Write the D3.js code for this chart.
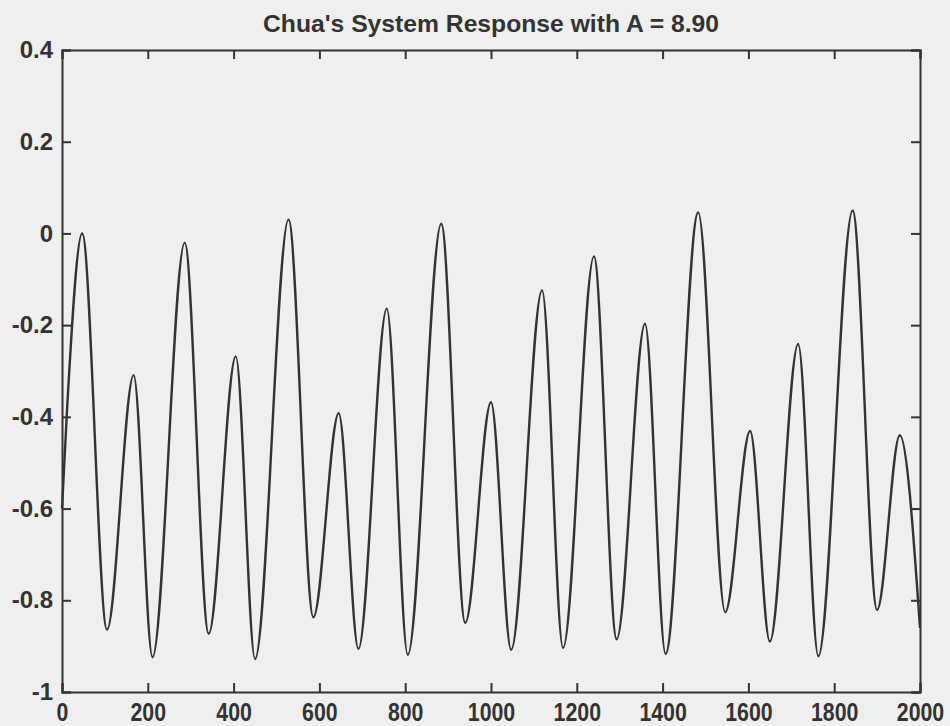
<!DOCTYPE html>
<html lang="en">
<head>
<meta charset="UTF-8">
<title>Chua's System Response</title>
<script src="https://d3js.org/d3.v7.min.js"></script>
<style>
    body { margin: 0; background: #efefef; }
    text { font-family: Arial, "Liberation Sans", sans-serif; font-weight: bold; fill: #333; }
</style>
</head>
<body>
<script>
    // peaks and troughs (sample index, response)
    const samples = [0, 12, 47, 105, 167, 211, 286, 342, 405, 450, 528, 586, 645, 691, 757, 806, 884, 940,
        1000, 1047, 1119, 1168, 1240, 1293, 1359, 1407, 1483, 1546, 1604, 1650, 1716, 1763, 1843, 1900, 1953, 2000];
    const response = [-0.6, -0.38, 0.0, -0.864, -0.309, -0.924, -0.02, -0.873, -0.268, -0.928, 0.03, -0.837, -0.392, -0.906, -0.164, -0.919, 0.021, -0.849,
        -0.368, -0.908, -0.124, -0.904, -0.05, -0.885, -0.197, -0.917, 0.046, -0.826, -0.431, -0.89, -0.241, -0.922, 0.05, -0.821, -0.44, -0.86];
    const xTicks = [0, 200, 400, 600, 800, 1000, 1200, 1400, 1600, 1800, 2000];
    const yTicks = [0.4, 0.2, 0, -0.2, -0.4, -0.6, -0.8, -1];

    const w = 950, h = 726;
    const m = { left: 62, right: 920, top: 50, bottom: 692 };

    const svg = d3.select("body").append("svg")
        .attr("width", w)
        .attr("height", h);

    const x = d3.scaleLinear().domain([0, 2000]).range([m.left, m.right]);
    const y = d3.scaleLinear().domain([-1, 0.4]).range([m.bottom, m.top]);

    // curve
    const line = d3.line()
        .x((d, i) => x(samples[i]))
        .y(d => y(d))
        .curve(d3.curveMonotoneX);

    svg.append("path")
        .datum(response)
        .attr("d", line)
        .attr("fill", "none")
        .attr("stroke", "#333")
        .attr("stroke-width", 2.4);

    // box with inward ticks on all sides (matlab style)
    svg.append("g")
        .attr("transform", "translate(0," + m.bottom + ")")
        .call(d3.axisBottom(x).tickValues(xTicks).tickSize(-9).tickPadding(11).tickFormat(d3.format("d")))
        .call(g => g.selectAll("text")
            .style("font-size", "26px")
            .attr("transform", "scale(0.82,1)"));

    svg.append("g")
        .attr("transform", "translate(0," + m.top + ")")
        .call(d3.axisTop(x).tickValues(xTicks).tickSize(-9).tickFormat(""));

    svg.append("g")
        .attr("transform", "translate(" + m.left + ",0)")
        .call(d3.axisLeft(y).tickValues(yTicks).tickSize(-9).tickPadding(9).tickFormat(d => String(+d.toFixed(1))))
        .call(g => g.selectAll("text").style("font-size", "24px"));

    svg.append("g")
        .attr("transform", "translate(" + m.right + ",0)")
        .call(d3.axisRight(y).tickValues(yTicks).tickSize(-9).tickFormat(""));

    svg.selectAll(".domain").attr("stroke", "#333").attr("stroke-width", 2);
    svg.selectAll(".tick line").attr("stroke", "#333").attr("stroke-width", 2);
    svg.selectAll(".tick text").attr("fill", "#333").style("font-family", "Arial, 'Liberation Sans', sans-serif");

    // title
    svg.append("text")
        .attr("x", 491)
        .attr("y", 32)
        .attr("text-anchor", "middle")
        .attr("textLength", 456)
        .attr("lengthAdjust", "spacingAndGlyphs")
        .style("font-size", "24px")
        .text("Chua's System Response with A = 8.90");
</script>
</body>
</html>
